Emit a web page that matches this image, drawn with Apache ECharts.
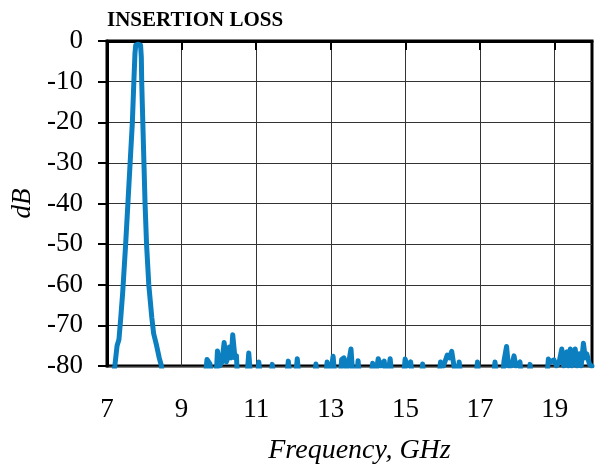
<!DOCTYPE html>
<html>
<head>
<meta charset="utf-8">
<script src="https://cdn.jsdelivr.net/npm/echarts@6/dist/echarts.min.js"></script>
<style>
  html, body { margin: 0; padding: 0; background: #fff; }
  #chart { width: 603px; height: 465px; }
</style>
</head>
<body>
<div id="chart"></div>
<script>
// frequency (GHz) and insertion loss (dB); values below -80 fall outside the plot
const freq = [
  7.15, 7.21, 7.27, 7.32, 7.37, 7.42, 7.5, 7.56, 7.62, 7.68, 7.72, 7.75, 7.77, 7.84, 7.9,
  7.92, 7.93, 7.96, 7.99, 8.02, 8.06, 8.12, 8.2, 8.25, 8.33, 8.4, 8.46, 8.5,
  9.62, 9.68, 9.76, 9.82,
  9.92, 9.96, 10.02, 10.08, 10.14, 10.2, 10.24, 10.28, 10.33, 10.37, 10.43, 10.47, 10.5,
  10.74, 10.8, 10.86, 11.02, 11.07, 11.12, 11.38, 11.43, 11.48,
  11.8, 11.86, 11.92, 12.04, 12.1, 12.16, 12.55, 12.6, 12.65,
  12.85, 12.9, 12.96, 13.0, 13.06, 13.12,
  13.24, 13.29, 13.35, 13.42, 13.5, 13.54, 13.6, 13.68, 13.73, 13.78,
  14.07, 14.12, 14.17, 14.22, 14.27, 14.34, 14.43, 14.5, 14.54, 14.59, 14.65,
  14.94, 14.99, 15.05, 15.14, 15.2, 15.42, 15.46, 15.5,
  15.88, 15.94, 16.02, 16.12, 16.18, 16.24, 16.3, 16.38, 16.44, 16.5,
  16.88, 16.93, 16.98, 17.35, 17.4, 17.46,
  17.6, 17.64, 17.67, 17.71, 17.76, 17.84, 17.91, 17.96, 18.07, 18.12,
  18.29, 18.34, 18.39,
  18.78, 18.83, 18.9, 18.98, 19.05, 19.12, 19.19, 19.24, 19.28, 19.33, 19.37, 19.42, 19.46,
  19.5, 19.55, 19.6, 19.66, 19.71, 19.77, 19.82, 19.86, 19.93, 19.98, 20.0
];
const loss = [
  -84, -80, -75, -73.5, -68, -62, -50, -40, -30, -20, -10, -3, -1, -0.8, -1,
  -4, -10, -20, -30, -40, -50, -60, -68, -72, -75, -78, -80, -84,
  -84, -78.4, -79.5, -84,
  -84, -76.3, -80, -79, -74.2, -79, -78, -75.3, -78, -72.3, -78, -77.5, -84,
  -84, -76.8, -84, -84, -79, -84, -84, -79.6, -84,
  -84, -78.8, -84, -84, -78.2, -84, -84, -79.5, -84,
  -84, -79, -84, -84, -77.6, -84,
  -84, -78.4, -78, -81, -78, -75.8, -84, -84, -78.7, -84,
  -84, -79.3, -84, -84, -78.2, -80, -78.8, -84, -84, -78.2, -84,
  -84, -78.3, -80, -79, -84, -84, -79.5, -84,
  -84, -79, -80, -77.3, -78, -76.4, -80, -84, -79, -84,
  -84, -79, -84, -84, -79, -84,
  -84, -78.8, -79, -75.2, -80, -80, -77.5, -80, -79, -84,
  -84, -79.6, -84,
  -84, -78.3, -79, -78.5, -80, -79, -75.8, -80, -77, -76.5, -80, -75.8, -80,
  -79, -75.8, -80, -77, -80, -74.4, -78, -77, -79.5, -80, -80
];
const xTickLabels = [7, 9, 11, 13, 15, 17, 19];

const chart = echarts.init(document.getElementById('chart'));
const serif = 'Liberation Serif, Times New Roman, serif';

chart.setOption({
  animation: false,
  title: {
    text: 'INSERTION LOSS',
    left: 102,
    top: 5,
    textStyle: { fontFamily: serif, fontWeight: 'bold', fontSize: 21, color: '#000' }
  },
  grid: {
    left: 107, right: 11, top: 41, bottom: 99,
    outerBoundsMode: 'none',
    show: true, borderColor: '#000', borderWidth: 3, backgroundColor: 'transparent'
  },
  xAxis: {
    type: 'value',
    min: 7, max: 20, interval: 1,
    name: 'Frequency, GHz',
    nameLocation: 'middle',
    nameGap: 71,
    nameTextStyle: { fontFamily: serif, fontStyle: 'italic', fontSize: 28, color: '#000', padding: [0, 0, 0, 20] },
    axisLine: { show: true, lineStyle: { color: '#000', width: 3 } },
    axisTick: { show: true, length: 9, customValues: xTickLabels, lineStyle: { color: '#000', width: 2 } },
    axisLabel: { customValues: xTickLabels, margin: 30, fontFamily: serif, fontSize: 27, color: '#000' },
    splitLine: { show: true, lineStyle: { color: '#333', width: 1 } }
  },
  yAxis: {
    type: 'value',
    min: -80, max: 0, interval: 10,
    name: 'dB',
    nameLocation: 'middle',
    nameGap: 66,
    nameTextStyle: { fontFamily: serif, fontStyle: 'italic', fontSize: 27, color: '#000' },
    axisLine: { show: true, lineStyle: { color: '#000', width: 3 } },
    axisTick: { show: true, length: 9, lineStyle: { color: '#000', width: 2 } },
    axisLabel: { margin: 24, fontFamily: serif, fontSize: 27, color: '#000' },
    splitLine: { show: true, lineStyle: { color: '#333', width: 1 } }
  },
  series: [{
    type: 'line',
    data: freq.map((f, i) => [f, loss[i]]),
    showSymbol: false,
    clip: true,
    lineStyle: { color: '#0c7fc0', width: 5, join: 'round', cap: 'round' }
  }]
});
</script>
</body>
</html>
